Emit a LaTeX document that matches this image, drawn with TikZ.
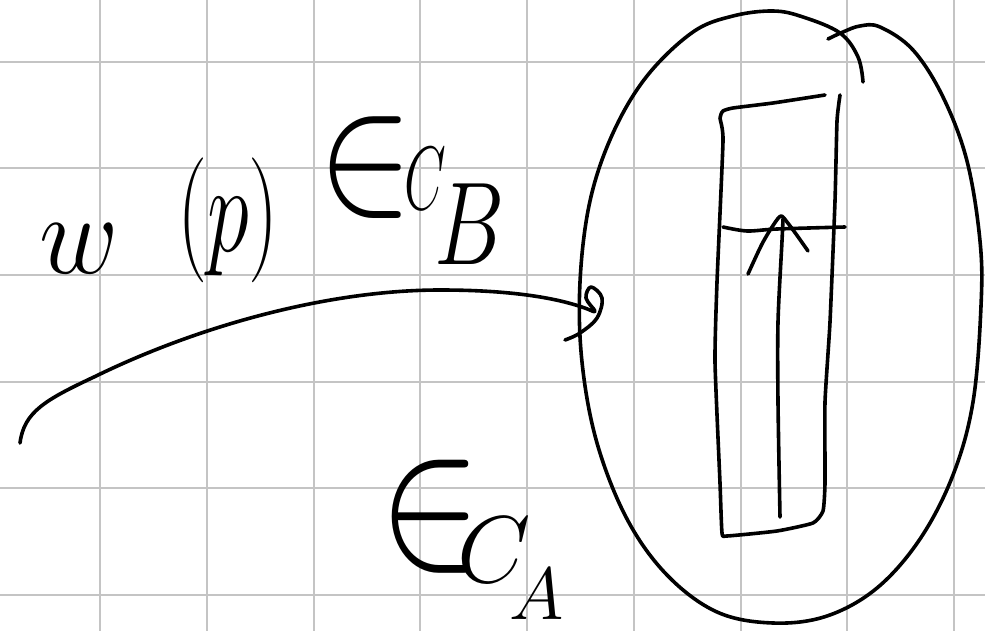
\RequirePackage{fix-cm}
\documentclass[tikz,border=0pt]{standalone}
\usepackage{graphicx}
\begin{document}
\begin{tikzpicture}[x=1pt,y=-1pt,
  gridline/.style={line width=2pt,color={rgb,255:red,196;green,196;blue,196}},
  ink/.style={line width=3.6pt,black,line cap=round,line join=round},
  hw/.style={inner sep=0pt,anchor=center}]
\useasboundingbox (0,0) rectangle (985,631);
\fill[white] (0,0) rectangle (985,631);
% grid
\begin{scope}
\clip (0,0) rectangle (985,631);
\foreach \i in {0,...,8} \draw[gridline] ({100.3+106.7*\i},0) -- ({100.3+106.7*\i},631);
\foreach \j in {0,...,5} \draw[gridline] (0,{61.8+106.6*\j}) -- (985,{61.8+106.6*\j});
\end{scope}
% big oval
\draw[ink] plot[smooth,tension=0.6] coordinates {(828,39) (843,32) (860,26) (880,27) (913,50) (943,97) (967,161) (980,241) (981,306) (973,402) (953,475) (920,539) (877,588) (827,616) (773,623) (717,612) (667,575) (627,519) (597,443) (582,362) (580,282) (590,201) (613,133) (647,76) (693,32) (733,16) (773,11) (803,17) (840,33) (858,57) (863,82)};
% inner rectangle
\draw[ink] plot[smooth,tension=0.3] coordinates {(825,95) (773,103) (733,108) (723,111) (720,118) (723,141) (717,282) (715,362) (720,483) (722,533) (727,536) (777,531) (813,523) (823,511) (825,483) (825,402) (830,322) (835,201) (837,121) (840,95)};
% horizontal line
\draw[ink] plot[smooth,tension=0.5] coordinates {(723,227) (747,231) (777,229) (845,227)};
% arrow shaft and head
\draw[ink] plot[smooth,tension=0.5] coordinates {(780,517) (778,402) (778,322) (782,241) (783,219)};
\draw[ink] plot[smooth,tension=0.5] coordinates {(748,274) (762,244) (774,224) (781,216) (787,222) (796,234) (808,251)};
% incoming curve
\coordinate (cstart) at (20,443);
\coordinate (cend) at (590,310);
\draw[ink] (cstart) .. controls (24,412) and (45,400) .. (94,377)
  .. controls (200,325) and (330,290) .. (440,290)
  .. controls (520,290) and (565,300) .. (cend);
\draw[ink] plot[smooth,tension=0.6] coordinates {(cend) (595,311) (586,298) (591,287) (602,298) (597,318) (580,333) (565,340)};
% texts
\node[hw,font=\fontsize{115}{115}\selectfont] (w) at (79,249) {\scalebox{0.95}[1]{$w$}};
\node[hw,font=\fontsize{125}{125}\selectfont] (p) at (228,220) {\scalebox{0.68}[1]{$(p)$}};
\node[hw,font=\fontsize{135}{135}\selectfont] (inB) at (366,168) {\scalebox{1.05}[1.3]{$\in$}};
\node[hw,font=\fontsize{90}{90}\selectfont] (CB) at (425,179) {\scalebox{0.6}[1]{$C$}};
\node[hw,font=\fontsize{118}{118}\selectfont] (B) at (470,224) {\scalebox{0.75}[1]{$B$}};
\node[hw,font=\fontsize{150}{150}\selectfont] (inA) at (430,517) {\scalebox{1.02}[1.3]{$\in$}};
\node[hw,font=\fontsize{95}{95}\selectfont] (CA) at (494,550) {$C$};
\node[hw,font=\fontsize{74}{74}\selectfont] (A) at (537,594) {$A$};
\end{tikzpicture}
\end{document}
